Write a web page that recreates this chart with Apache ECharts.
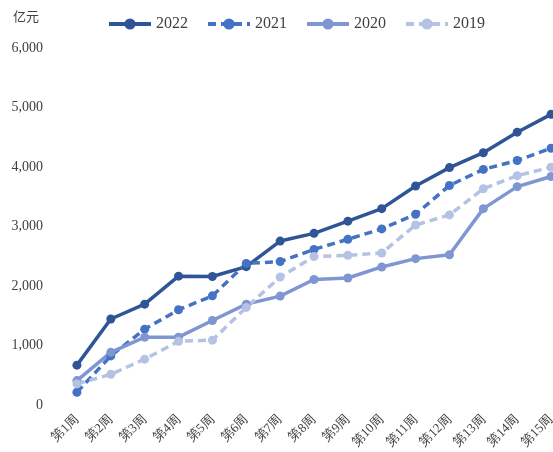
<!DOCTYPE html>
<html>
<head>
<meta charset="utf-8">
<script src="https://cdn.jsdelivr.net/npm/echarts@6/dist/echarts.min.js"></script>
<style>
  html, body { margin: 0; padding: 0; background: #fff; overflow: hidden; }
  #chart { width: 553px; height: 452px; }
</style>
</head>
<body>
<div id="chart"></div>
<script>
// Weekly cumulative values, 亿元
const weeks = ['第1周','第2周','第3周','第4周','第5周','第6周','第7周','第8周','第9周','第10周','第11周','第12周','第13周','第14周','第15周'];
const y2022 = [670, 1445, 1695, 2165, 2160, 2325, 2755, 2885, 3090, 3300, 3680, 3990, 4240, 4585, 4885];
const y2021 = [215, 825, 1275, 1600, 1835, 2380, 2410, 2615, 2785, 2960, 3205, 3690, 3960, 4110, 4315];
const y2020 = [410, 885, 1140, 1140, 1420, 1695, 1830, 2110, 2135, 2320, 2460, 2525, 3300, 3670, 3840];
const y2019 = [355, 515, 770, 1070, 1090, 1640, 2150, 2495, 2515, 2555, 3025, 3195, 3635, 3855, 3995];
const yTicks = [0, 1000, 2000, 3000, 4000, 5000, 6000];

const serif = '"Liberation Serif", "DejaVu Serif", serif';

function line(name, data, color, dashed) {
  return {
    name: name,
    type: 'line',
    data: data,
    symbol: 'circle',
    symbolSize: 9,
    lineStyle: { width: 3.5, color: color, type: dashed ? [8, 5] : 'solid' },
    itemStyle: { color: color },
    emphasis: { disabled: true }
  };
}

const chart = echarts.init(document.getElementById('chart'), null, { renderer: 'canvas' });
chart.setOption({
  animation: false,
  graphic: [{
    type: 'text', left: 13, top: 10,
    style: { text: '亿元', font: '13px "Noto Sans CJK SC"', fill: '#404040' }
  }],
  legend: {
    top: 11, left: 102,
    itemWidth: 42, itemHeight: 14, itemGap: 18,
    lineStyle: { width: 4 },
    textStyle: { fontFamily: serif, fontSize: 16, color: '#404040' },
    data: ['2022', '2021', '2020', '2019']
  },
  // the plot runs past the right edge of the page, so the last week is clipped
  grid: {
    left: 60, width: 508, top: 48, bottom: 47,
    containLabel: false, outerBoundsMode: 'none'
  },
  xAxis: {
    type: 'category',
    data: weeks,
    boundaryGap: true,
    axisLine: { show: false },
    axisTick: { show: false },
    axisLabel: {
      rotate: 45, margin: 12, interval: 0,
      fontFamily: serif, fontSize: 13, color: '#404040'
    }
  },
  yAxis: {
    type: 'value',
    min: yTicks[0], max: yTicks[yTicks.length - 1], interval: 1000,
    splitLine: { show: false },
    axisLine: { show: false },
    axisTick: { show: false },
    axisLabel: {
      margin: 17, fontFamily: serif, fontSize: 14, color: '#404040',
      formatter: v => v.toLocaleString('en-US')
    }
  },
  series: [
    line('2022', y2022, '#2F5597', false),
    line('2021', y2021, '#4472C4', true),
    line('2020', y2020, '#7F96D2', false),
    line('2019', y2019, '#B4C2E3', true)
  ]
});
</script>
</body>
</html>
